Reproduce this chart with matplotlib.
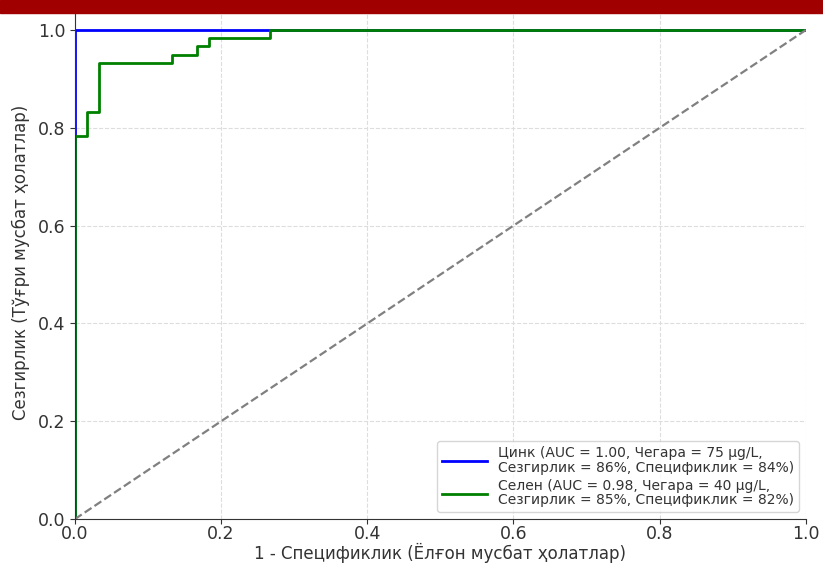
import numpy as np
import matplotlib.pyplot as plt
from matplotlib.patches import Rectangle

# ROC data
zinc_fpr = [0.0, 0.0, 1.0]
zinc_tpr = [0.0, 1.0, 1.0]

selen_fpr = [0.0, 0.0, 0.0167, 0.0167, 0.0333, 0.0333, 0.1333, 0.1333,
             0.1667, 0.1667, 0.1833, 0.1833, 0.2667, 0.2667, 1.0]
selen_tpr = [0.0, 0.7833, 0.7833, 0.8333, 0.8333, 0.9333, 0.9333, 0.95,
             0.95, 0.9667, 0.9667, 0.9833, 0.9833, 1.0, 1.0]

zinc_label = "Цинк (AUC = 1.00, Чегара = 75 μg/L,\nСезгирлик = 86%, Спецификлик = 84%)"
selen_label = "Селен (AUC = 0.98, Чегара = 40 μg/L,\nСезгирлик = 85%, Спецификлик = 82%)"

dark = '#333333'

fig = plt.figure(figsize=(8.23, 5.63), dpi=100)
ax = fig.add_axes([0.091, 0.078, 0.888, 0.912])

ax.plot(zinc_fpr, zinc_tpr, color='blue', lw=2, label=zinc_label)
ax.plot(selen_fpr, selen_tpr, color='green', lw=2, label=selen_label)
ax.plot([0, 1], [0, 1], color='gray', ls='--', lw=1.6)

ax.set_xlim(0, 1)
ax.set_ylim(0, 1.05)
ax.grid(True, ls='--', color='#dddddd', lw=0.8)
for s in ['top', 'right']:
    ax.spines[s].set_visible(False)
for s in ['left', 'bottom']:
    ax.spines[s].set_color(dark)
ax.tick_params(labelsize=12.5, colors=dark)
ax.tick_params(axis='x', pad=1)
ax.set_xlabel("1 - Спецификлик (Ёлғон мусбат ҳолатлар)", fontsize=12, color=dark)
ax.xaxis.set_label_coords(0.5, -0.046)
ax.set_ylabel("Сезгирлик (Тўғри мусбат ҳолатлар)", fontsize=12, color=dark)
ax.yaxis.set_label_coords(-0.062, 0.5)
leg = ax.legend(loc='lower right', fontsize=10, labelspacing=0.3, handlelength=3.2,
                borderpad=0.35)
for t in leg.get_texts():
    t.set_linespacing(1.05)
    t.set_color(dark)

# decorative red band on top
fig.patches.append(Rectangle((0, 1 - 13 / 563), 1, 13 / 563, transform=fig.transFigure,
                             color='#a00000', zorder=10))

fig.savefig("out.png", dpi=100)
